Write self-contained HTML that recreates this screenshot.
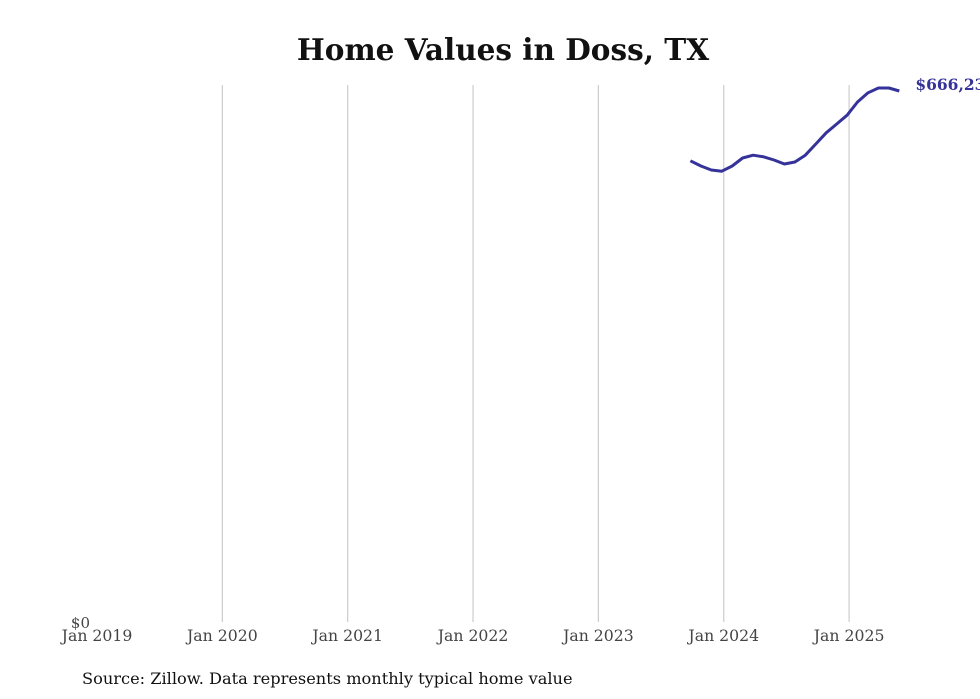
<!DOCTYPE html>
<html><head><meta charset="utf-8"><style>
body{margin:0;background:#fff;font-family:"DejaVu Serif","Liberation Serif",serif;}
svg{display:block}
</style></head><body>
<svg width="980" height="699" id="chart">
<text x="503" y="60" text-anchor="middle" font-size="29.5" font-weight="bold" fill="#111">Home Values in Doss, TX</text>
<g id="grid"></g><g id="xt"></g>
<text x="90" y="628" text-anchor="end" font-size="15" fill="#444">$0</text>
<path id="line" fill="none" stroke="#35329a" stroke-width="3" stroke-linejoin="round"/>
<text id="endlbl" font-size="15.5" font-weight="bold" fill="#35329a"></text>
<text x="82" y="684" font-size="16.2" fill="#111">Source: Zillow. Data represents monthly typical home value</text>
</svg>
<script>
const years=[2019,2020,2021,2022,2023,2024,2025];
const startMonth=[2023,10];
const values=[579,572.5,567.5,566,572.5,582.5,586,584,580,575,577.5,586,600,614,625,636,652.5,664,670,670,666.23];
const endLabel="$666,23";
const ns="http://www.w3.org/2000/svg";
const x=t=>97+(t-2019)*125.35;
const y=v=>624-v*0.8;
const g=document.getElementById('grid'),xt=document.getElementById('xt');
years.forEach(yr=>{
 if(yr>2019){const l=document.createElementNS(ns,'line');
 l.setAttribute('x1',x(yr));l.setAttribute('x2',x(yr));l.setAttribute('y1',85);l.setAttribute('y2',622);
 l.setAttribute('stroke','#ccc');l.setAttribute('stroke-width','1.2');
 
 
 g.appendChild(l);}
 const t=document.createElementNS(ns,'text');
 t.setAttribute('x',x(yr));t.setAttribute('y',641);t.setAttribute('text-anchor','middle');
 t.setAttribute('font-size','15.7');t.setAttribute('fill','#444');t.textContent='Jan '+yr;
 
 
 xt.appendChild(t);
});
let d='';let lx,ly;
values.forEach((v,i)=>{const m=startMonth[1]-1+i;const t=startMonth[0]+m/12;lx=x(t)-2;ly=y(v);d+=(i?'L':'M')+lx.toFixed(1)+','+ly.toFixed(1);});
document.getElementById('line').setAttribute('d',d);
const el=document.getElementById('endlbl');el.setAttribute('x',lx+16);el.setAttribute('y',ly-1);el.textContent=endLabel;
</script>
</body></html>
